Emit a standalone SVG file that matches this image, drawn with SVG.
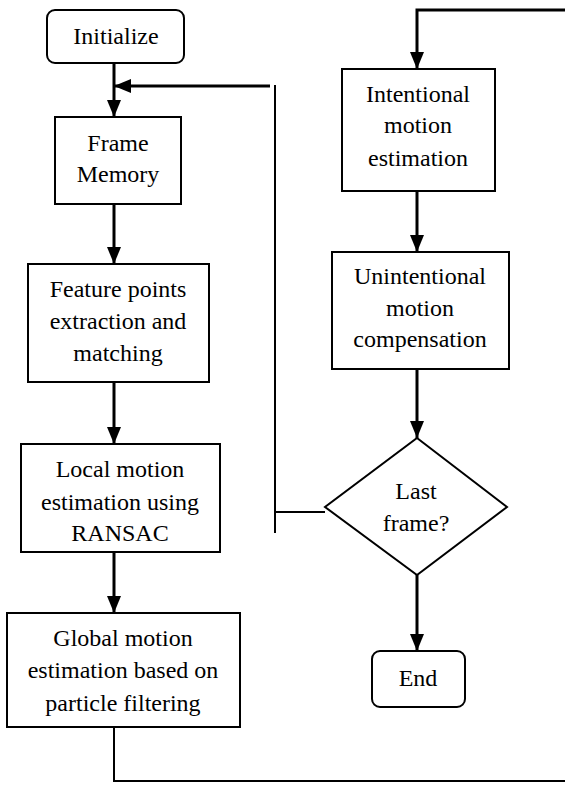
<svg xmlns="http://www.w3.org/2000/svg" width="565" height="785" viewBox="0 0 565 785">
<style>
.box{fill:#fff;stroke:#000;stroke-width:2}
.arr{fill:none;stroke:#000;stroke-width:3}
.ln{fill:none;stroke:#000;stroke-width:2}
</style>
<defs>
<marker id="ah" markerUnits="userSpaceOnUse" markerWidth="18" markerHeight="16" refX="17" refY="7" orient="auto">
<path d="M0,0 L17,7 L0,14 z" fill="#000"/>
</marker>
</defs>
<rect width="565" height="785" fill="#fff"/>
<g id="connectors">
<line class="arr" x1="114" y1="63" x2="114" y2="117" marker-end="url(#ah)"/>
<line class="arr" x1="114" y1="204" x2="114" y2="264" marker-end="url(#ah)"/>
<line class="arr" x1="114" y1="382" x2="114" y2="444" marker-end="url(#ah)"/>
<line class="arr" x1="114" y1="552" x2="114" y2="613" marker-end="url(#ah)"/>
<polyline class="ln" points="114,727 114,781 565,781"/>
<polyline class="arr" points="565,10 417,10 417,69" marker-end="url(#ah)"/>
<line class="arr" x1="417" y1="191" x2="417" y2="252" marker-end="url(#ah)"/>
<line class="arr" x1="417" y1="369" x2="417" y2="438" marker-end="url(#ah)"/>
<line class="arr" x1="417" y1="575" x2="417" y2="651" marker-end="url(#ah)"/>
<line class="ln" x1="325" y1="512" x2="275" y2="512"/>
<line class="ln" x1="275" y1="85" x2="275" y2="533"/>
<line class="arr" x1="270" y1="86" x2="114" y2="86" marker-end="url(#ah)"/>
</g>
<g font-family="Liberation Serif" font-size="24" text-anchor="middle" fill="#000">
<g id="initialize">
<rect class="box" x="47" y="10" width="137" height="53" rx="8"/>
<text x="116" y="44">Initialize</text>
</g>
<g id="frame-memory">
<rect class="box" x="55" y="117" width="126" height="87"/>
<text x="118" y="151">Frame</text>
<text x="118" y="182">Memory</text>
</g>
<g id="feature-points">
<rect class="box" x="28" y="264" width="181" height="118"/>
<text x="118" y="297">Feature points</text>
<text x="118" y="329">extraction and</text>
<text x="118" y="361">matching</text>
</g>
<g id="local-motion">
<rect class="box" x="21" y="444" width="199" height="108"/>
<text x="120" y="477">Local motion</text>
<text x="120" y="510">estimation using</text>
<text x="120" y="541">RANSAC</text>
</g>
<g id="global-motion">
<rect class="box" x="7" y="613" width="233" height="114"/>
<text x="123" y="646">Global motion</text>
<text x="123" y="678">estimation based on</text>
<text x="123" y="711">particle filtering</text>
</g>
<g id="intentional">
<rect class="box" x="342" y="69" width="153" height="122"/>
<text x="418" y="102">Intentional</text>
<text x="418" y="133">motion</text>
<text x="418" y="166">estimation</text>
</g>
<g id="unintentional">
<rect class="box" x="332" y="252" width="177" height="117"/>
<text x="420" y="284">Unintentional</text>
<text x="420" y="316">motion</text>
<text x="420" y="347">compensation</text>
</g>
<g id="last-frame">
<polygon class="box" points="417,438 507,507 417,575 325,507"/>
<text x="416" y="499">Last</text>
<text x="416" y="531">frame?</text>
</g>
<g id="end">
<rect class="box" x="372" y="651" width="93" height="56" rx="8"/>
<text x="418" y="686">End</text>
</g>
</g>
</svg>
